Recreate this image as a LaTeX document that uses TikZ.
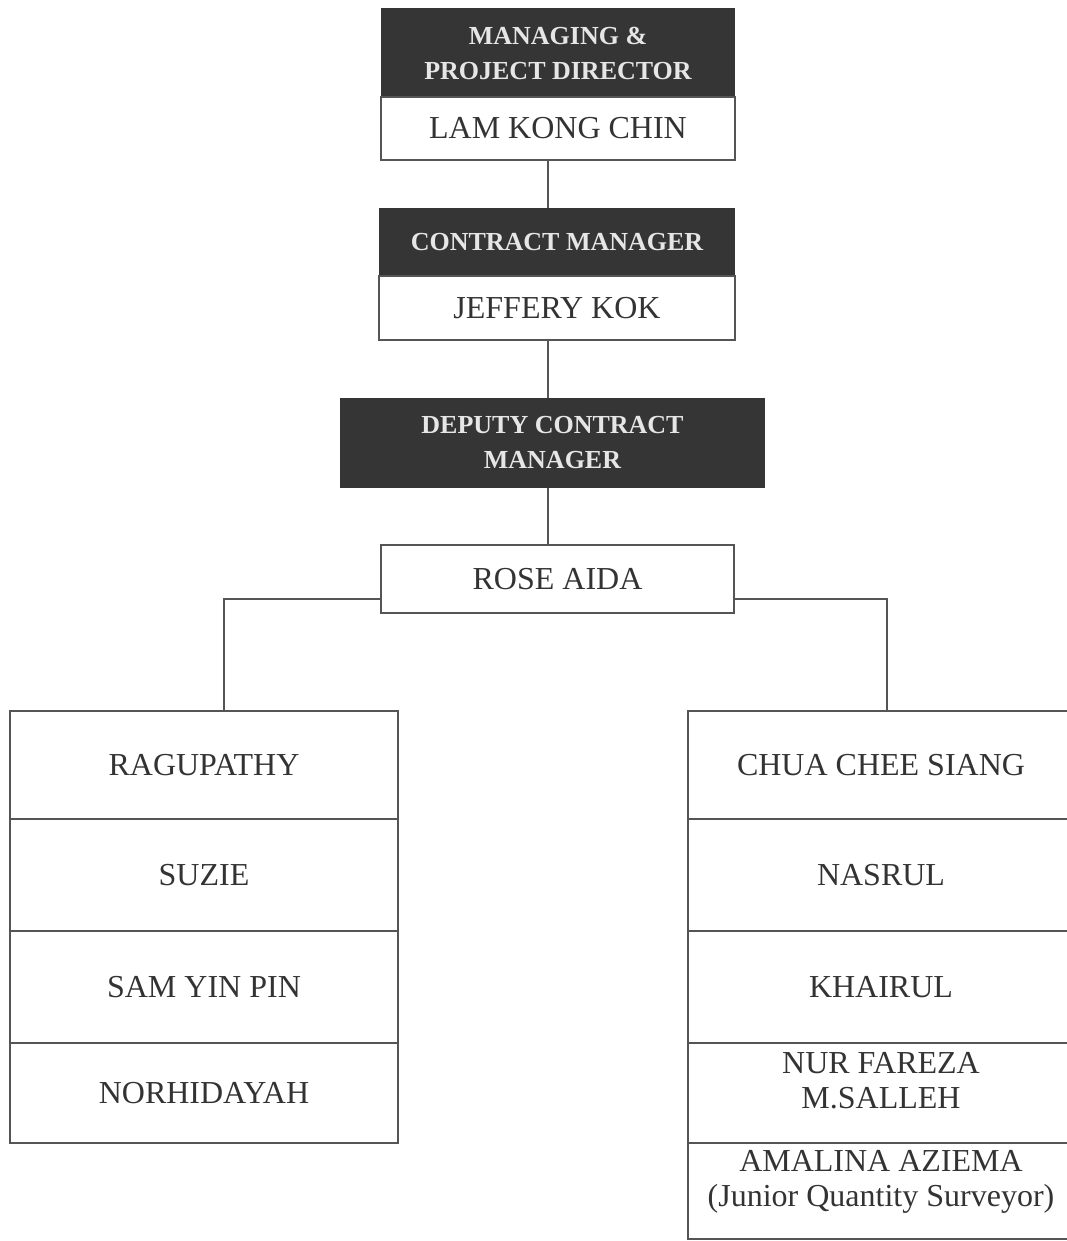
\documentclass[tikz,border=0pt]{standalone}
\usepackage{fontspec}
\setmainfont{Liberation Serif}
\definecolor{hdark}{HTML}{353535}
\definecolor{htext}{HTML}{E6E6E6}
\definecolor{ink}{HTML}{333333}
\definecolor{rule}{HTML}{555555}
\tikzset{
  head/.style={fill=hdark, text=htext, font=\bfseries\fontsize{26}{35}\selectfont, align=center, inner sep=0pt},
  namebox/.style={draw=rule, line width=1.2pt, fill=white, text=ink, font=\fontsize{32}{35}\selectfont, align=center, inner sep=0pt},
  link/.style={draw=rule, line width=1.2pt}
}
\begin{document}
\begin{tikzpicture}[x=1pt,y=-1pt]
\useasboundingbox (0,0) rectangle (1067,1241);
% top of the chart
\node[head, minimum width=354, minimum height=90] (mdhead) at (558,53) {MANAGING \&\\PROJECT DIRECTOR};
\node[namebox, minimum width=354, minimum height=63] (mdname) at (558,128.5) {LAM KONG CHIN};
\node[head, minimum width=356, minimum height=68] (cmhead) at (557,242) {CONTRACT MANAGER};
\node[namebox, minimum width=356, minimum height=64] (cmname) at (557,308) {JEFFERY KOK};
\node[head, minimum width=425, minimum height=90] (dcmhead) at (552.5,443) {DEPUTY CONTRACT\\MANAGER};
\node[namebox, minimum width=353, minimum height=68] (dcmname) at (557.5,579) {ROSE AIDA};
\coordinate (spine) at (548,0);
\draw[link] (mdname.south -| spine) -- (cmhead.north -| spine);
\draw[link] (cmname.south -| spine) -- (dcmhead.north -| spine);
\draw[link] (dcmhead.south -| spine) -- (dcmname.north -| spine);
% two staff columns
\foreach \t/\c/\h [count=\i] in {RAGUPATHY/765/108, SUZIE/875/112, SAM YIN PIN/987/112, NORHIDAYAH/1093/100}
  \node[namebox, minimum width=388, minimum height=\h] (left\i) at (204,\c) {\t};
\foreach \t/\c/\h [count=\i] in {CHUA CHEE SIANG/765/108, NASRUL/875/112, KHAIRUL/987/112}
  \node[namebox, minimum width=386, minimum height=\h] (right\i) at (881,\c) {\t};
\node[namebox, minimum width=386, minimum height=100, text depth=26pt] (right4) at (881,1093) {NUR FAREZA\\M.SALLEH};
\node[namebox, minimum width=386, minimum height=96, text depth=26pt] (right5) at (881,1191) {AMALINA AZIEMA\\(Junior Quantity Surveyor)};
\coordinate (lbus) at (224,599);
\coordinate (rbus) at (887,599);
\draw[link] (dcmname.west |- lbus) -- (lbus) -- (left1.north -| lbus);
\draw[link] (dcmname.east |- rbus) -- (rbus) -- (right1.north -| rbus);
\end{tikzpicture}
\end{document}
